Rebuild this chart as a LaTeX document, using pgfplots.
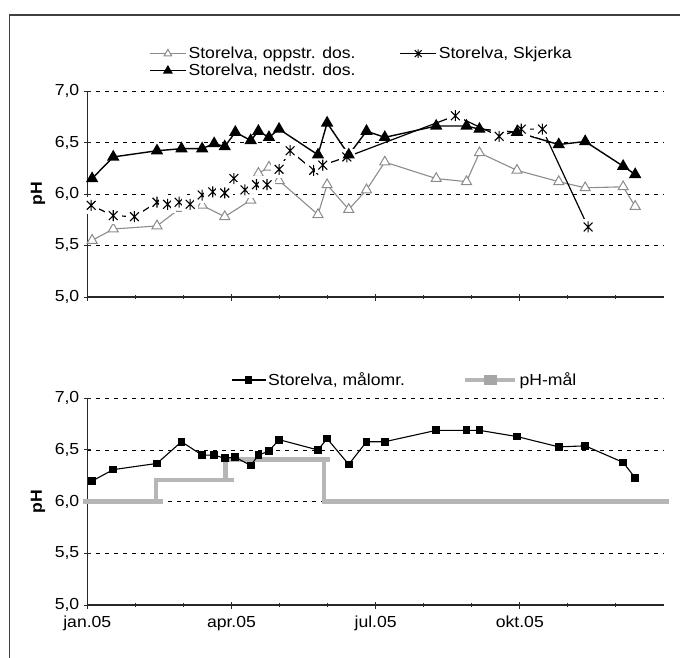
\documentclass[border=0pt]{standalone}
\usepackage{fontspec}
\setmainfont{Liberation Sans}[FakeStretch=1.1]
\usepackage{pgfplots}
\pgfplotsset{compat=1.18}

\definecolor{ogrey}{RGB}{140,140,140}
\definecolor{lgrey}{RGB}{182,182,182}
\definecolor{axgrey}{RGB}{40,40,40}

\newcommand{\chartfont}{\fontsize{16}{19}\selectfont}

\pgfdeclareplotmark{xstarbox}{%
  \pgfpathrectangle{\pgfqpoint{-1.5\pgfplotmarksize}{-1.5\pgfplotmarksize}}{\pgfqpoint{3\pgfplotmarksize}{3\pgfplotmarksize}}%
  \pgfsetfillcolor{white}\pgfusepathqfill
  \pgfpathmoveto{\pgfqpoint{0pt}{-\pgfplotmarksize}}\pgfpathlineto{\pgfqpoint{0pt}{\pgfplotmarksize}}%
  \pgfpathmoveto{\pgfqpoint{-0.8\pgfplotmarksize}{-0.8\pgfplotmarksize}}\pgfpathlineto{\pgfqpoint{0.8\pgfplotmarksize}{0.8\pgfplotmarksize}}%
  \pgfpathmoveto{\pgfqpoint{-0.8\pgfplotmarksize}{0.8\pgfplotmarksize}}\pgfpathlineto{\pgfqpoint{0.8\pgfplotmarksize}{-0.8\pgfplotmarksize}}%
  \pgfusepathqstroke}
\pgfdeclareplotmark{xstar}{%
  \pgfpathmoveto{\pgfqpoint{0pt}{-\pgfplotmarksize}}\pgfpathlineto{\pgfqpoint{0pt}{\pgfplotmarksize}}%
  \pgfpathmoveto{\pgfqpoint{-0.8\pgfplotmarksize}{-0.8\pgfplotmarksize}}\pgfpathlineto{\pgfqpoint{0.8\pgfplotmarksize}{0.8\pgfplotmarksize}}%
  \pgfpathmoveto{\pgfqpoint{-0.8\pgfplotmarksize}{0.8\pgfplotmarksize}}\pgfpathlineto{\pgfqpoint{0.8\pgfplotmarksize}{-0.8\pgfplotmarksize}}%
  \pgfusepathqstroke}

\pgfplotsset{
  phaxis/.style={
    scale only axis, width=576.7pt, height=206pt,
    xmin=0, xmax=12, ymin=5, ymax=7,
    clip=false,
    font=\chartfont,
    axis x line*=bottom, axis y line*=left,
    axis line style={-, line width=1.2pt, axgrey},
    tick align=center, major tick length=7pt,
    tick style={line width=1pt, axgrey},
    xtick={0,3,6,9},
    extra x ticks={1,2,4,5,7,8,10,11},
    extra x tick labels={},
    extra x tick style={major tick length=4.5pt, grid=none},
    ytick={5,5.5,6,6.5,7},
    ymajorgrids,
    grid style={black, line width=0.9pt, dash pattern=on 4pt off 5pt},
    /pgf/number format/.cd, use comma, fixed, fixed zerofill, precision=1, assume math mode=true,
    /pgfplots/.cd,
    tick label style={font=\chartfont},
    xticklabel style={yshift=-4pt},
    yticklabel style={xshift=-1pt},
    ylabel={\textbf{pH}},
    ylabel style={at={(axis description cs:-0.0855,0.5)}, anchor=center, font=\chartfont},
    legend style={draw=none, fill=none, inner sep=0pt, font=\chartfont, nodes={font=\chartfont}},
    legend cell align=left,
  },
}

\begin{document}
\begin{tikzpicture}[font=\chartfont]
\draw[line width=1.5pt, black!75] (9.5pt,-700pt) -- (9.5pt,-15pt) -- (720pt,-15pt);

% ---------------- top panel ----------------
\begin{axis}[phaxis,
  at={(87.3pt,-91pt)}, anchor=north west,
  xticklabels={},
  legend columns=2,
  legend style={at={(0.107,1.14)}, anchor=west,
    /tikz/every even column/.append style={column sep=42pt}},
  legend image code/.code={\draw[mark repeat=2,mark phase=2,#1,mark size=4.3pt] plot coordinates {(0pt,0pt) (18pt,0pt) (36pt,0pt)};},
]
\addplot[ogrey, line width=1.1pt, mark=triangle*, mark size=5.8pt,
  mark options={fill=white, draw=ogrey, line width=1pt, solid}] coordinates {
(0.10,5.55) (0.54,5.66) (1.45,5.69) (1.93,5.86) (2.39,5.89) (2.86,5.78)
(3.40,5.94) (3.56,6.20) (3.78,6.26) (3.99,6.13) (4.80,5.80) (4.99,6.09)
(5.44,5.85) (5.81,6.04) (6.19,6.31) (7.26,6.15) (7.89,6.12) (8.16,6.40)
(8.94,6.23) (9.81,6.12) (10.36,6.06) (11.15,6.07) (11.40,5.88)
};
\addlegendentry{Storelva, oppstr. dos.}
\addplot[black, line width=1.2pt, mark=xstarbox, mark size=5.5pt,
  mark options={line width=1.1pt, solid}, forget plot] coordinates {
(0.08,5.89) (0.54,5.79) (0.98,5.78) (1.45,5.92) (1.67,5.90) (1.91,5.92)
(2.14,5.90) (2.39,5.99) (2.61,6.02) (2.86,6.01) (3.05,6.15) (3.28,6.04)
(3.52,6.09) (3.74,6.09) (3.99,6.24) (4.22,6.42) (4.71,6.23) (4.90,6.28)
(5.40,6.36) (7.66,6.76) (8.57,6.56) (9.03,6.63) (9.47,6.63) (10.42,5.68)
};
\addlegendimage{black, line width=1.2pt, mark=xstar, mark options={line width=1.1pt}}
\addlegendentry{Storelva, Skjerka}
\addplot[black, line width=1.4pt, mark=triangle*, mark size=5.8pt,
  mark options={fill=black, solid}] coordinates {
(0.10,6.15) (0.54,6.36) (1.45,6.42) (1.96,6.44) (2.39,6.44) (2.64,6.49)
(2.86,6.46) (3.08,6.60) (3.40,6.52) (3.56,6.61) (3.78,6.55) (3.99,6.63)
(4.80,6.38) (4.99,6.69) (5.44,6.38) (5.81,6.61) (6.19,6.55) (7.26,6.66)
(7.89,6.66) (8.16,6.63) (8.94,6.60) (9.81,6.48) (10.36,6.51) (11.15,6.27)
(11.40,6.19)
};
\addlegendentry{Storelva, nedstr. dos.}
\end{axis}

% ---------------- bottom panel ----------------
\begin{axis}[phaxis,
  at={(87.3pt,-398.3pt)}, anchor=north west, height=206.7pt,
  xticklabels={jan.05,apr.05,jul.05,okt.05},
  legend columns=2,
  legend style={at={(0.249,1.0885)}, anchor=west,
    /tikz/every even column/.append style={column sep=56pt}},
  legend image code/.code={\draw[mark repeat=2,mark phase=2,#1] plot coordinates {(0pt,0pt) (17pt,0pt) (34pt,0pt)};},
]
\addplot[lgrey, line width=4.5pt, forget plot] coordinates {(-0.09,6.0) (1.57,6.0)};
\addplot[lgrey, line width=4.5pt, forget plot] coordinates {(1.43,6.0) (1.43,6.21) (3.06,6.21)};
\addplot[lgrey, line width=4.5pt, forget plot] coordinates {(2.88,6.21) (2.88,6.41) (5.05,6.41)};
\addplot[lgrey, line width=4.5pt, forget plot] coordinates {(4.93,6.41) (4.93,6.0) (12.1,6.0)};
\addplot[black, line width=1.1pt, mark=square*, mark size=3.3pt,
  mark options={fill=black, solid}] coordinates {
(0.10,6.20) (0.54,6.31) (1.45,6.37) (1.96,6.58) (2.39,6.45) (2.64,6.45)
(2.86,6.42) (3.08,6.43) (3.40,6.35) (3.56,6.45) (3.78,6.49) (3.99,6.60)
(4.80,6.50) (4.99,6.61) (5.44,6.36) (5.81,6.58) (6.19,6.58) (7.26,6.69)
(7.89,6.69) (8.16,6.69) (8.94,6.63) (9.81,6.53) (10.36,6.54) (11.15,6.38)
(11.40,6.23)
};
\addlegendentry{Storelva, målomr.}
\addlegendimage{lgrey, line width=4.5pt, legend image code/.code={\draw[lgrey, line width=4.5pt] (0pt,0pt) -- (50pt,0pt); \fill[gray!70] (21pt,-2.6pt) rectangle (29pt,2.6pt);}}
\addlegendentry{pH-mål}
\end{axis}

\pgfresetboundingbox
\useasboundingbox (0pt,0pt) rectangle (680pt,-657pt);
\end{tikzpicture}
\end{document}
